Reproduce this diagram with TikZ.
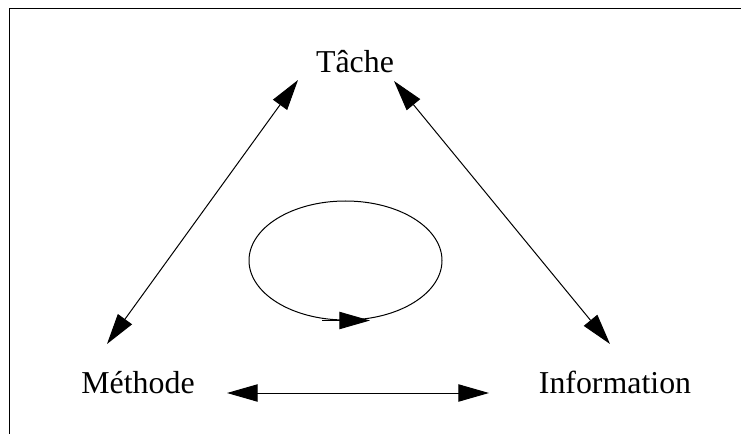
\documentclass[tikz,border=0pt]{standalone}
\usepackage{fontspec}
\setmainfont{Liberation Serif}
\usetikzlibrary{arrows.meta,shapes.geometric}
\begin{document}
\begin{tikzpicture}[x=0.75pt,y=-0.75pt,
  lbl/.style={inner sep=0pt,font=\fontsize{23.9}{28}\selectfont},
  conn/.style={line width=0.75pt,{Triangle[length=23pt,width=13pt]}-{Triangle[length=23pt,width=13pt]}},
  loopline/.style={line width=0.75pt},
  frame/.style={line width=1pt}]
\useasboundingbox (0,0) rectangle (741,434);
% frame: top and left edges only
\coordinate (fa) at (741,8.5);
\coordinate (fb) at (9.5,8.5);
\coordinate (fc) at (9.5,434);
\draw[frame] (fa) -- (fb) -- (fc);
% labels
\node[lbl,anchor=base] (tache) at (355,73) {Tâche};
\node[lbl,anchor=base] (methode) at (138,393) {Méthode};
\node[lbl,anchor=base] (info) at (615,393) {Information};
% arrow end points
\coordinate (tl) at (298,80);
\coordinate (tr) at (394,81);
\coordinate (ml) at (107,344);
\coordinate (ir) at (610,344);
\coordinate (hl) at (227,393);
\coordinate (hr) at (489,393);
\draw[conn] (ml) -- (tl);
\draw[conn] (tr) -- (ir);
\draw[conn] (hl) -- (hr);
% cycle
\node[draw,loopline,ellipse,minimum width=144.75pt,minimum height=89.25pt,inner sep=0pt] (cyc) at (345.5,260.5) {};
\coordinate (ca) at (322,320.5);
\coordinate (cb) at (370,320.5);
\draw[loopline,-{Triangle[length=23pt,width=13pt]}] (ca) -- (cb);
\end{tikzpicture}
\end{document}
